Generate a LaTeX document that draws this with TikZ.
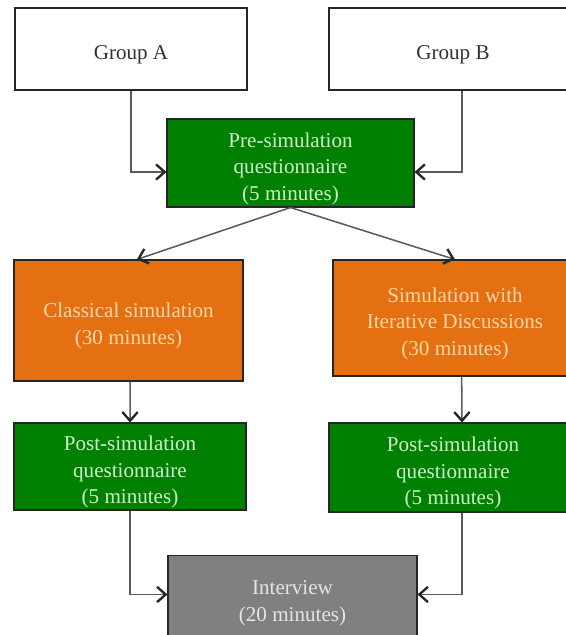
\documentclass[tikz,border=0pt]{standalone}
\usepackage{fontspec}
\setmainfont{Liberation Serif}
\usepackage{tikz}
\usetikzlibrary{arrows.meta}

\definecolor{boxgreen}{RGB}{0,128,0}
\definecolor{boxorange}{RGB}{228,112,18}
\definecolor{boxgray}{RGB}{128,128,128}
\definecolor{linegray}{RGB}{90,90,90}

% strut that pushes the text a little lower in its box
\newcommand{\topstrut}{\rule{0pt}{22pt}}

\tikzset{
    stagebox/.style={draw=black!85,line width=0.9pt,align=center,inner sep=0pt,
        font=\fontsize{18}{22.5}\selectfont},
    groupbox/.style={stagebox,fill=white,text=black!80},
    quizbox/.style={stagebox,fill=boxgreen,text={rgb,255:red,205;green,240;blue,200}},
    simbox/.style={stagebox,fill=boxorange,text={rgb,255:red,255;green,214;blue,165}},
    talkbox/.style={stagebox,fill=boxgray,text={rgb,255:red,228;green,228;blue,228}},
    flow/.style={draw=linegray,line width=1.3pt,
        -{Straight Barb[length=2.6mm,width=4.6mm,line width=2pt,color=black!85]}}
}

\begin{document}
\begin{tikzpicture}[x=0.03cm,y=-0.03cm]

    % Frame of the picture
    \useasboundingbox (0,0) rectangle (566,635);
    \clip (0,0) rectangle (566,635);

    % Draw the boxes
    \node[groupbox,minimum width=6.96cm,minimum height=2.46cm] (groupA) at (131,49) {\topstrut Group A};
    \node[groupbox,minimum width=7.44cm,minimum height=2.46cm] (groupB) at (453,49) {\topstrut Group B};
    \node[quizbox,minimum width=7.41cm,minimum height=2.64cm] (pre) at (290.5,163)
        {\topstrut Pre-simulation\\questionnaire\\(5 minutes)};
    \node[simbox,minimum width=6.87cm,minimum height=3.63cm] (classic) at (128.5,320.5)
        {\topstrut Classical simulation\\(30 minutes)};
    \node[simbox,minimum width=7.32cm,minimum height=3.48cm] (iterative) at (455,318)
        {\topstrut Simulation with\\Iterative Discussions\\(30 minutes)};
    \node[quizbox,minimum width=6.96cm,minimum height=2.61cm] (postA) at (130,466.5)
        {\topstrut Post-simulation\\questionnaire\\(5 minutes)};
    \node[quizbox,minimum width=7.44cm,minimum height=2.67cm] (postB) at (453,467.5)
        {\topstrut Post-simulation\\questionnaire\\(5 minutes)};
    \node[talkbox,minimum width=7.47cm,minimum height=2.52cm] (interview) at (292.5,597.5)
        {\topstrut Interview\\(20 minutes)};

    % Draw the arrows
    \draw[flow] (groupA.south) |- ([yshift=-0.27cm]pre.west);
    \draw[flow] ([xshift=0.27cm]groupB.south) |- ([yshift=-0.27cm]pre.east);
    \draw[flow] (pre.south) -- ([xshift=0.25cm]classic.north);
    \draw[flow] (pre.south) -- (iterative.north);
    \draw[flow] ([xshift=0.05cm]classic.south) -- (postA.north);
    \draw[flow] ([xshift=0.2cm]iterative.south) -- ([xshift=0.27cm]postB.north);
    \draw[flow] (postA.south) |- ([yshift=0.09cm]interview.west);
    \draw[flow] ([xshift=0.27cm]postB.south) |- ([yshift=0.09cm]interview.east);

\end{tikzpicture}
\end{document}
